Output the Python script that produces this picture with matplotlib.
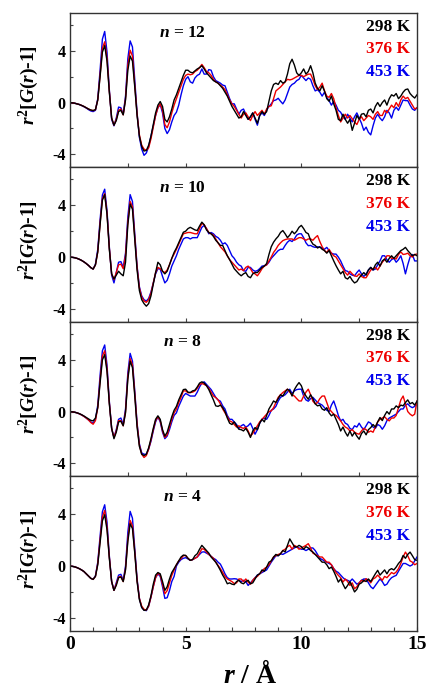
import numpy as np
import matplotlib
matplotlib.use('Agg')
import matplotlib.pyplot as plt
from matplotlib.ticker import MultipleLocator

plt.rcParams['font.family'] = ['Liberation Serif', 'DejaVu Serif']
plt.rcParams['font.weight'] = 'bold'
plt.rcParams['mathtext.fontset'] = 'custom'
plt.rcParams['mathtext.it'] = 'Liberation Serif:italic:bold'
plt.rcParams['mathtext.rm'] = 'Liberation Serif:bold'
plt.rcParams['mathtext.bf'] = 'Liberation Serif:bold'

# data, r from 0 to 15 in steps of 0.1 A (one row per A)
temps = ['298 K', '376 K', '453 K']
colors = ['black', '#ee0000', '#0000ee']
sizes = ['12', '10', '8', '4']
dr = 0.1

n12_298 = [0, -0.02, -0.05, -0.1, -0.15, -0.22, -0.3, -0.4, -0.5, -0.58,
           -0.62, -0.55, 0.2, 2.0, 3.9, 4.4, 3.2, 0.8, -1.2, -1.75,
           -1.4, -0.7, -0.6, -0.95, 0.2, 2.5, 3.6, 3.2, 1.2, -1.0,
           -2.6, -3.4, -3.75, -3.7, -3.3, -2.6, -1.7, -0.8, -0.2, 0.08,
           -0.3, -1.3, -1.5, -1.1, -0.5, 0.2, 0.6, 1.1, 1.6, 2.1,
           2.5, 2.5, 2.35, 2.3, 2.45, 2.6, 2.7, 2.85, 2.6, 2.3,
           2.1, 1.9, 1.7, 1.6, 1.5, 1.3, 1.1, 0.8, 0.5, 0.1,
           -0.3, -0.6, -0.9, -1.2, -1.1, -0.7, -1.0, -1.3, -1.1, -0.8,
           -1.2, -1.6, -1.0, -0.7, -0.9, -0.7, 0.1, 0.9, 1.4, 1.5,
           1.4, 1.7, 1.5, 1.6, 2.2, 3.0, 3.35, 2.9, 2.3, 2.1,
           2.3, 2.6, 2.2, 2.4, 2.85, 2.3, 1.5, 1.1, 0.9, 1.3,
           0.9, 0.3, 0.1, 0.5, -0.1, -0.6, -1.3, -1.4, -0.9, -1.3,
           -1.6, -1.3, -2.15, -1.6, -1.0, -1.3, -0.9, -0.85, -1.1, -0.6,
           -0.5, -0.8, -0.3, 0.0, -0.3, 0.0, 0.2, -0.2, 0.3, 0.6,
           0.5, 0.7, 0.3, 0.5, 0.8, 1.0, 1.05, 0.7, 0.5, 0.35,
           0.6]
n12_376 = [0, -0.02, -0.05, -0.1, -0.15, -0.22, -0.3, -0.4, -0.5, -0.58,
           -0.63, -0.55, 0.2, 2.1, 4.2, 4.7, 3.4, 0.9, -1.2, -1.75,
           -1.3, -0.6, -0.5, -0.95, 0.3, 2.9, 4.05, 3.6, 1.4, -0.9,
           -2.5, -3.3, -3.6, -3.7, -3.5, -2.8, -1.9, -1.0, -0.4, -0.1,
           -0.6, -1.7, -1.95, -1.5, -0.8, -0.2, 0.3, 0.8, 1.3, 1.8,
           2.1, 2.2, 2.15, 2.2, 2.4, 2.5, 2.7, 2.95, 2.7, 2.4,
           2.3, 2.1, 1.8, 1.6, 1.5, 1.35, 1.2, 1.0, 0.6, 0.2,
           -0.1, -0.3, -0.6, -0.9, -1.2, -0.9, -0.8, -1.1, -1.4, -1.0,
           -0.7, -1.0, -0.8, -0.6, -0.9, -0.5, -0.3, -0.25, 0.3, 0.9,
           1.05, 1.2, 1.4, 1.6, 1.8, 1.75, 1.8, 1.9, 2.0, 2.1,
           2.1, 2.0, 2.1, 2.2, 2.2, 1.8, 1.3, 1.0, 1.2, 1.5,
           0.9, 0.5, 0.4, 0.7, 0.3, -0.4, -1.0, -1.5, -1.2, -0.9,
           -1.2, -1.0, -1.25, -1.5, -1.7, -1.3, -1.1, -1.4, -1.2, -1.0,
           -1.1, -1.3, -0.9, -0.7, -1.0, -1.0, -0.6, -0.8, -0.5, -0.2,
           -0.4, 0.0, -0.3, 0.2, 0.5, 0.3, 0.4, 0.1, -0.2, -0.5,
           -0.4]
n12_453 = [0, -0.02, -0.05, -0.1, -0.15, -0.23, -0.32, -0.42, -0.55, -0.65,
           -0.7, -0.6, 0.3, 2.5, 4.9, 5.5, 3.9, 1.0, -1.3, -1.8,
           -1.2, -0.35, -0.4, -0.9, 0.5, 3.4, 4.77, 4.3, 1.8, -0.8,
           -2.7, -3.6, -4.08, -3.9, -3.4, -2.6, -1.8, -1.0, -0.4, -0.15,
           -0.8, -2.0, -2.4, -2.1, -1.5, -1.0, -0.75, -0.2, 0.6, 1.3,
           1.8, 2.0, 1.6, 1.5, 1.9, 2.1, 2.2, 2.6, 2.2, 2.2,
           2.55, 2.5, 2.0, 1.7, 1.6, 1.5, 1.35, 1.3, 0.8, 0.3,
           -0.1, -0.1, -0.5, -0.9, -0.6, -0.5, -0.9, -1.3, -1.1, -0.8,
           -1.3, -1.75, -1.0, -0.8, -1.0, -0.6, -0.3, -0.1, 0.15, 0.2,
           0.33, 0.1, -0.1, 0.2, 0.7, 1.2, 1.4, 1.5, 1.7, 1.8,
           2.1, 1.9, 1.7, 1.9, 1.8, 1.3, 0.9, 1.0, 0.8, 0.5,
           0.8, 0.4, 0.15, -0.2, 0.1, -0.2, -0.6, -0.75, -1.1, -1.3,
           -0.9, -1.2, -1.5, -1.1, -0.8, -1.2, -1.6, -2.15, -1.9, -2.3,
           -2.5, -1.8, -1.2, -0.9, -1.2, -1.4, -1.1, -0.6, -0.8, -1.2,
           -0.6, -0.36, -0.6, -0.2, 0.2, 0.15, 0.15, -0.2, -0.5, -0.6,
           -0.4]

n10_298 = [0, -0.02, -0.05, -0.1, -0.17, -0.26, -0.37, -0.5, -0.65, -0.82,
           -0.93, -0.6, 0.4, 2.5, 4.4, 4.83, 3.3, 0.6, -1.3, -1.7,
           -1.4, -1.1, -1.3, -1.45, -0.4, 2.5, 4.1, 3.7, 1.4, -1.0,
           -2.6, -3.3, -3.6, -3.8, -3.6, -3.0, -2.1, -1.2, -0.4, -0.6,
           -1.1, -1.3, -1.1, -0.6, -0.1, 0.36, 0.7, 1.1, 1.5, 1.92,
           2.0, 2.2, 2.3, 2.2, 2.1, 2.05, 2.4, 2.7, 2.5, 2.1,
           1.9, 1.8, 1.6, 1.3, 1.1, 0.9, 0.9, 0.5, 0.1, -0.2,
           -0.55, -0.9, -1.1, -1.3, -1.45, -1.3, -1.2, -1.5, -1.6, -1.3,
           -1.2, -1.2, -1.0, -0.8, -0.7, -0.5, 0.2, 0.8, 1.15, 1.4,
           1.6, 1.9, 2.05, 1.8, 1.5, 1.7, 2.0, 1.8, 2.0, 2.3,
           2.45, 2.2, 1.9, 1.8, 1.3, 1.0, 0.9, 0.7, 0.8, 0.6,
           0.5, 0.3, 0.5, 0.1, -0.3, -0.67, -1.0, -1.3, -1.1, -1.6,
           -1.7, -1.5, -1.8, -2.0, -1.9, -1.6, -1.4, -1.2, -1.4, -1.0,
           -0.8, -1.0, -0.6, -0.4, -0.7, -0.3, -0.15, -0.4, -0.1, 0.1,
           -0.1, 0.1, 0.3, 0.5, 0.6, 0.75, 0.5, 0.3, 0.1, 0.2,
           0.1]
n10_376 = [0, -0.02, -0.05, -0.1, -0.17, -0.26, -0.37, -0.5, -0.65, -0.82,
           -0.93, -0.6, 0.4, 2.6, 4.5, 4.9, 3.4, 0.7, -1.3, -1.75,
           -1.2, -0.6, -0.55, -0.9, 0.1, 2.7, 4.3, 3.9, 1.6, -0.8,
           -2.4, -3.1, -3.4, -3.5, -3.3, -2.8, -2.0, -1.2, -0.8, -0.9,
           -1.1, -1.2, -1.0, -0.6, -0.1, 0.23, 0.6, 1.0, 1.4, 1.8,
           1.85, 1.9, 1.9, 1.85, 1.8, 1.8, 2.2, 2.6, 2.5, 2.2,
           1.9, 1.8, 1.7, 1.4, 1.1, 0.8, 0.6, 0.4, 0.1, -0.2,
           -0.4, -0.6, -0.8, -1.0, -0.93, -1.05, -0.8, -0.7, -0.9, -1.2,
           -1.3, -1.45, -1.2, -0.9, -0.7, -0.6, -0.3, 0.0, 0.36, 0.6,
           0.9, 1.1, 1.27, 1.35, 1.4, 1.4, 1.4, 1.3, 1.4, 1.5,
           1.5, 1.4, 1.3, 1.4, 1.4, 1.3, 1.5, 1.66, 1.2, 0.8,
           0.5, 0.36, 0.6, 0.3, 0.1, 0.0, -0.3, -0.6, -0.9, -1.2,
           -1.4, -1.1, -1.3, -1.45, -1.5, -1.3, -1.5, -1.6, -1.6, -1.3,
           -1.0, -0.9, -0.8, -1.0, -0.7, -0.4, -0.2, 0.1, 0.1, -0.1,
           -0.1, -0.15, 0.2, 0.4, 0.2, 0.23, 0.3, 0.1, 0.0, 0.2,
           0.23]
n10_453 = [0, -0.02, -0.05, -0.1, -0.17, -0.26, -0.37, -0.5, -0.65, -0.82,
           -0.93, -0.55, 0.6, 2.9, 4.8, 5.25, 3.6, 0.8, -1.4, -2.0,
           -1.2, -0.4, -0.35, -0.8, 0.3, 3.1, 4.83, 4.3, 1.8, -0.7,
           -2.3, -3.0, -3.3, -3.4, -3.2, -2.7, -2.0, -1.3, -0.9, -0.93,
           -1.5, -2.0, -1.8, -1.3, -0.7, -0.3, 0.1, 0.6, 1.0, 1.4,
           1.5, 1.5, 1.4, 1.5, 1.5, 1.5, 1.9, 2.3, 2.45, 2.2,
           1.8, 1.9, 1.8, 1.6, 1.5, 1.3, 1.0, 1.1, 0.9, 0.5,
           0.1, -0.1, -0.4, -0.6, -0.7, -1.05, -1.1, -0.8, -0.8, -1.0,
           -1.1, -1.05, -0.9, -0.7, -0.67, -0.6, -0.4, -0.1, 0.1, 0.3,
           0.5, 0.6, 0.6, 0.9, 1.15, 1.3, 1.2, 1.4, 1.7, 1.8,
           1.8, 1.5, 1.1, 0.88, 0.9, 0.8, 0.75, 0.8, 0.75, 0.7,
           0.6, 0.75, 0.5, 0.3, 0.23, 0.23, 0.0, -0.3, -0.7, -1.05,
           -1.1, -1.3, -1.4, -1.45, -1.2, -1.0, -1.3, -1.5, -1.3, -1.0,
           -0.8, -1.0, -0.93, -0.6, -0.3, 0.1, 0.1, -0.2, -0.4, -0.2,
           -0.1, -0.4, -0.2, 0.1, -0.5, -1.3, -0.6, 0.0, 0.2, -0.3,
           -0.3]

n8_298 = [0, -0.02, -0.05, -0.1, -0.16, -0.24, -0.34, -0.45, -0.57, -0.68,
          -0.72, -0.5, 0.3, 2.2, 4.0, 4.4, 3.1, 0.6, -1.3, -2.1,
          -1.6, -0.8, -0.75, -1.1, -0.1, 2.5, 3.9, 3.4, 1.2, -1.2,
          -2.7, -3.3, -3.4, -3.3, -2.8, -2.1, -1.3, -0.6, -0.33, -0.6,
          -1.4, -1.9, -1.6, -1.0, -0.4, 0.1, 0.4, 0.9, 1.3, 1.7,
          1.73, 1.5, 1.47, 1.6, 1.65, 1.9, 2.2, 2.3, 2.2, 2.0,
          1.7, 1.3, 0.9, 0.44, 0.4, 0.5, 0.3, 0.0, -0.5, -0.9,
          -1.0, -0.8, -1.1, -1.37, -1.4, -1.5, -1.3, -1.6, -2.0, -1.5,
          -1.24, -1.4, -0.9, -0.6, -0.8, -0.3, 0.2, 0.5, 0.82, 0.7,
          1.0, 1.3, 1.2, 1.5, 1.73, 1.6, 1.2, 1.7, 2.0, 2.24,
          2.0, 1.5, 1.2, 0.95, 1.3, 1.0, 0.6, 0.44, 0.5, 0.2,
          0.1, 0.3, -0.1, -0.33, -0.2, -0.6, -1.0, -1.5, -1.2, -1.6,
          -1.9, -1.5, -1.9, -1.6, -1.9, -2.14, -1.7, -1.5, -1.8, -1.4,
          -1.24, -1.0, -1.2, -0.8, -0.46, -0.7, -0.3, 0.0, -0.2, 0.2,
          0.2, 0.44, 0.3, 0.5, 0.44, 0.7, 0.9, 0.6, 0.7, 0.5,
          0.8]
n8_376 = [0, -0.02, -0.05, -0.1, -0.17, -0.26, -0.37, -0.5, -0.65, -0.85,
          -0.98, -0.7, 0.3, 2.4, 4.3, 4.7, 3.3, 0.7, -1.3, -2.0,
          -1.5, -0.7, -0.7, -1.1, 0.0, 2.7, 4.1, 3.6, 1.4, -1.0,
          -2.6, -3.3, -3.55, -3.4, -2.9, -2.2, -1.4, -0.7, -0.4, -0.7,
          -1.5, -2.0, -1.8, -1.2, -0.6, -0.1, 0.2, 0.7, 1.1, 1.6,
          1.6, 1.45, 1.47, 1.5, 1.6, 1.8, 2.1, 2.17, 2.1, 2.0,
          1.8, 1.5, 1.2, 1.08, 0.9, 0.6, 0.2, -0.1, -0.4, -0.72,
          -0.8, -1.0, -1.2, -1.1, -1.24, -1.3, -1.2, -1.5, -1.9, -1.7,
          -1.4, -1.1, -0.8, -0.6, -0.4, -0.2, 0.0, 0.05, 0.3, 0.7,
          1.1, 1.3, 1.47, 1.6, 1.73, 1.5, 1.3, 1.2, 1.0, 0.82,
          0.82, 1.2, 1.5, 1.73, 1.3, 0.8, 0.6, 0.7, 1.0, 1.2,
          1.2, 0.7, 0.2, 0.0, -0.2, -0.3, -0.5, -0.72, -1.0, -1.2,
          -1.3, -1.5, -1.4, -1.6, -1.7, -1.75, -1.5, -1.3, -1.4, -1.6,
          -1.5, -1.6, -1.2, -0.8, -0.6, -0.5, -0.4, -0.6, -0.72, -0.5,
          -0.5, -0.3, 0.3, 0.9, 1.2, 0.6, 0.0, -0.2, -0.33, -0.2,
          0.82]
n8_453 = [0, -0.02, -0.05, -0.1, -0.17, -0.26, -0.37, -0.5, -0.65, -0.8,
          -0.9, -0.6, 0.5, 2.8, 4.7, 5.15, 3.6, 0.8, -1.3, -2.0,
          -1.4, -0.6, -0.5, -1.0, 0.2, 3.0, 4.5, 3.9, 1.6, -0.9,
          -2.5, -3.2, -3.3, -3.3, -2.9, -2.3, -1.5, -0.8, -0.4, -0.8,
          -1.6, -2.1, -1.9, -1.4, -0.8, -0.3, -0.1, 0.4, 0.8, 1.2,
          1.4, 1.3, 1.2, 1.2, 1.2, 1.5, 1.9, 2.2, 2.3, 2.1,
          1.9, 1.7, 1.4, 1.1, 0.9, 0.8, 0.44, 0.2, -0.3, -0.6,
          -0.6, -0.8, -1.0, -1.3, -1.1, -1.0, -1.2, -1.1, -0.9, -1.3,
          -1.75, -1.4, -0.9, -0.6, -0.5, -0.6, -0.3, 0.1, 0.2, 0.4,
          0.8, 1.1, 1.2, 1.3, 1.5, 1.73, 1.4, 1.6, 1.7, 1.73,
          1.73, 1.2, 0.9, 0.8, 1.0, 1.1, 0.9, 0.7, 0.6, 0.5,
          0.3, 0.1, 0.0, 0.5, 0.82, 0.3, -0.3, -0.72, -0.6, -0.9,
          -1.0, -1.3, -1.4, -1.1, -1.2, -0.9, -1.2, -1.4, -1.1, -0.8,
          -0.9, -1.2, -1.3, -1.0, -1.1, -1.37, -1.1, -0.7, -0.5, -0.4,
          -0.3, -0.2, 0.0, 0.2, 0.2, 0.5, 0.6, 0.4, 0.3, 0.4,
          0.6]

n4_298 = [0, -0.02, -0.06, -0.12, -0.2, -0.3, -0.42, -0.6, -0.78, -0.95,
          -1.03, -0.8, 0.1, 1.8, 3.5, 3.97, 2.8, 0.6, -1.2, -1.88,
          -1.5, -0.9, -0.85, -1.2, -0.3, 1.9, 3.27, 2.9, 1.0, -1.2,
          -2.6, -3.2, -3.43, -3.4, -3.0, -2.3, -1.4, -0.7, -0.5, -0.6,
          -1.2, -1.88, -1.6, -1.0, -0.5, -0.2, 0.1, 0.4, 0.7, 0.85,
          0.82, 0.6, 0.44, 0.5, 0.8, 0.95, 1.3, 1.6, 1.4, 1.2,
          1.0, 0.7, 0.5, 0.3, 0.0, -0.33, -0.7, -1.0, -1.37, -1.3,
          -1.4, -1.44, -1.2, -1.1, -1.3, -1.37, -1.2, -1.1, -1.37, -1.3,
          -1.0, -0.7, -0.6, -0.3, -0.4, -0.08, 0.3, 0.4, 0.7, 0.9,
          0.8, 0.95, 1.2, 1.1, 1.6, 2.1, 1.8, 1.5, 1.47, 1.6,
          1.5, 1.3, 1.5, 1.4, 1.2, 1.08, 0.9, 0.7, 0.5, 0.3,
          0.3, 0.1, -0.2, -0.08, -0.4, -0.8, -1.24, -1.0, -1.4, -1.75,
          -1.5, -1.2, -1.6, -2.0, -1.8, -1.4, -1.3, -1.1, -1.2, -1.0,
          -1.2, -0.9, -0.6, -0.33, -0.7, -0.5, -0.3, -0.6, -0.3, -0.2,
          -0.3, -0.08, 0.2, 0.4, 0.82, 0.6, 0.9, 1.08, 0.8, 0.5,
          0.44]
n4_376 = [0, -0.02, -0.06, -0.12, -0.2, -0.3, -0.42, -0.6, -0.78, -0.95,
          -1.03, -0.8, 0.2, 2.0, 3.8, 4.3, 3.0, 0.7, -1.2, -1.88,
          -1.4, -0.85, -0.8, -1.2, -0.2, 2.1, 3.53, 3.1, 1.1, -1.1,
          -2.5, -3.1, -3.35, -3.4, -3.1, -2.4, -1.6, -0.9, -0.55, -0.7,
          -1.4, -2.14, -1.9, -1.3, -0.72, -0.3, 0.1, 0.4, 0.57, 0.8,
          0.82, 0.6, 0.44, 0.5, 0.6, 0.7, 1.0, 1.34, 1.3, 1.1,
          0.9, 0.75, 0.6, 0.3, 0.05, -0.2, -0.5, -0.8, -1.0, -1.1,
          -1.2, -1.35, -1.3, -1.0, -1.0, -1.2, -1.0, -1.24, -1.4, -1.1,
          -0.9, -0.8, -0.6, -0.4, -0.2, -0.08, 0.1, 0.4, 0.7, 0.8,
          0.9, 0.95, 1.2, 1.3, 1.5, 1.6, 1.3, 1.6, 1.5, 1.3,
          1.4, 1.5, 1.6, 1.73, 1.4, 1.0, 0.9, 0.8, 0.7, 0.7,
          0.5, 0.3, 0.3, 0.1, -0.2, -0.5, -0.72, -0.9, -1.24, -1.0,
          -1.2, -1.5, -1.3, -1.75, -1.6, -1.3, -1.1, -1.2, -0.98, -1.1,
          -1.3, -1.0, -0.9, -0.7, -0.9, -1.1, -0.8, -0.9, -0.7, -0.5,
          -0.6, -0.46, -0.2, 0.2, 0.7, 1.08, 0.8, 0.4, 0.3, 0.1,
          0.2]
n4_453 = [0, -0.02, -0.06, -0.12, -0.2, -0.3, -0.42, -0.6, -0.78, -0.95,
          -1.03, -0.75, 0.3, 2.3, 4.2, 4.74, 3.4, 0.8, -1.2, -1.88,
          -1.3, -0.7, -0.64, -1.1, 0.0, 2.6, 4.23, 3.7, 1.4, -1.0,
          -2.5, -3.2, -3.4, -3.45, -3.1, -2.4, -1.6, -0.9, -0.6, -0.8,
          -1.6, -2.5, -2.45, -1.9, -1.2, -0.8, 0.0, 0.3, 0.5, 0.6,
          0.65, 0.55, 0.44, 0.5, 0.6, 0.7, 0.9, 1.08, 1.1, 1.0,
          0.9, 0.75, 0.6, 0.5, 0.3, 0.15, -0.2, -0.6, -0.9, -1.0,
          -1.0, -0.98, -1.0, -1.1, -1.2, -1.1, -1.2, -1.5, -1.3, -1.1,
          -0.9, -0.7, -0.6, -0.5, -0.4, -0.3, 0.0, 0.3, 0.55, 0.8,
          0.8, 0.95, 0.9, 1.0, 1.1, 1.2, 1.3, 1.4, 1.5, 1.4,
          1.3, 1.3, 1.2, 1.3, 1.4, 1.4, 1.2, 0.9, 0.6, 0.5,
          0.4, 0.3, 0.2, 0.1, -0.2, -0.4, -0.5, -0.7, -0.9, -1.05,
          -1.1, -1.2, -1.0, -1.2, -1.4, -1.3, -1.1, -1.0, -1.0, -1.3,
          -1.6, -1.75, -1.5, -1.25, -1.0, -1.2, -1.5, -1.4, -1.1, -0.9,
          -0.8, -0.72, -0.4, -0.1, 0.2, 0.2, 0.1, 0.0, 0.1, 0.4,
          0.7]

panels = [
    [n12_298, n12_376, n12_453],
    [n10_298, n10_376, n10_453],
    [n8_298, n8_376, n8_453],
    [n4_298, n4_376, n4_453],
]

fig = plt.figure(figsize=(4.3, 6.91), dpi=100)
left, width = 70/430, 347/430
h = 154.5/691
bottom0 = 1 - 630.7/691

for i, (sz, curves) in enumerate(zip(sizes, panels)):
    bot = bottom0 + (3 - i)*h
    ax = fig.add_axes([left, bot, width, h])
    # blue first, black on top
    for k in [2, 1, 0]:
        y = np.array(curves[k])
        r = np.arange(len(y))*dr
        ax.plot(r, y, color=colors[k], lw=1.0)
    ax.set_xlim(0, 15)
    ax.set_ylim(-5, 6.95)
    ax.set_yticks([-4, 0, 4])
    ax.set_yticklabels(['-4', '0', '4'])
    ax.yaxis.set_minor_locator(MultipleLocator(2))
    if i < 3:
        ax.xaxis.set_major_locator(MultipleLocator(2.5))
        ax.set_xticklabels([])
    else:
        ax.xaxis.set_major_locator(MultipleLocator(5))
        ax.xaxis.set_minor_locator(MultipleLocator(1))
    ax.tick_params(axis='y', which='major', direction='in', length=3.5,
                   labelsize=11.5, pad=3, width=0.8, color='#444444')
    ax.tick_params(axis='y', which='minor', direction='in', length=2.5,
                   width=0.8, color='#444444')
    ax.tick_params(axis='x', which='both', direction='in', length=3,
                   labelsize=14, pad=4, width=0.8, color='#444444')
    for sp in ax.spines.values():
        sp.set_color('#333333')
        sp.set_linewidth(1.0)
    ax.text(0.323, 0.868, '$n$ = ' + sz, transform=ax.transAxes,
            ha='center', va='center', fontsize=12.5, fontweight='bold')
    for k, yy in enumerate([0.908, 0.762, 0.615]):
        ax.text(0.98, yy, temps[k], transform=ax.transAxes, ha='right',
                va='center', fontsize=12.5, fontweight='bold', color=colors[k])
    fig.text(28.5/430, bot + h*0.53, '$r^2$[$G$($r$)-1]',
             rotation=90, ha='center', va='center', fontsize=14,
             fontweight='bold')

fig.text(250/430, 1 - 689/691, '$r$ / Å', ha='center', va='bottom',
         fontsize=20, fontweight='bold')

plt.savefig('out.png', dpi=100)
